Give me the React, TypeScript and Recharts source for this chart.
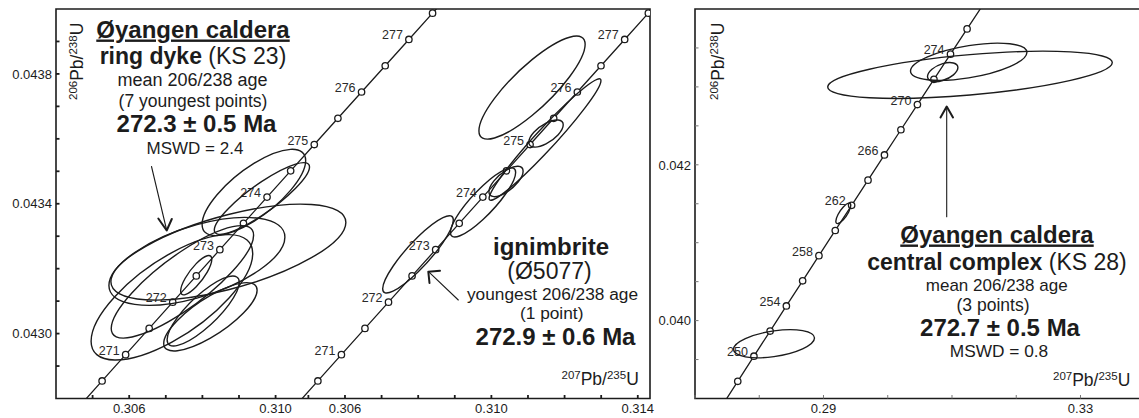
import { ComposedChart, Line, Scatter, XAxis, YAxis, ReferenceArea } from 'recharts';

const FONT = '"Liberation Sans", Arial, Helvetica, sans-serif';
const INK = '#1c1c1c';

// concordia marks every 0.5 Ma (KS 23 and Ø5077 frame)
const fineAges = [270, 270.5, 271, 271.5, 272, 272.5, 273, 273.5, 274, 274.5, 275, 275.5, 276, 276.5, 277, 277.5, 278];
const fineR207 = [0.30461697, 0.30525956, 0.30590246, 0.30654567, 0.3071892, 0.30783306, 0.30847722, 0.3091217, 0.3097665, 0.31041162, 0.31105705, 0.3117028, 0.31234886, 0.31299524, 0.31364193, 0.31428895, 0.31493629];
const fineR206 = [0.04277325, 0.04285413, 0.04293502, 0.04301592, 0.04309682, 0.04317773, 0.04325864, 0.04333956, 0.04342049, 0.04350143, 0.04358238, 0.04366331, 0.04374426, 0.04382522, 0.04390619, 0.04398716, 0.04406813];
const fineLabels = [271, 272, 273, 274, 275, 276, 277];

// concordia marks every 2 Ma (KS 28 frame)
const coarseAges = [246, 248, 250, 252, 254, 256, 258, 260, 262, 264, 266, 268, 270, 272, 274, 276, 278, 280];
const coarseR207 = [0.27414208, 0.27665424, 0.27917135, 0.28169341, 0.28422046, 0.28675248, 0.2892895, 0.29183151, 0.29437853, 0.2969306, 0.29948767, 0.3020498, 0.30461697, 0.3071892, 0.3097665, 0.31234886, 0.3149364, 0.31752897];
const coarseR206 = [0.03889824, 0.0392206, 0.03954307, 0.03986564, 0.0401883, 0.04051107, 0.04083394, 0.0411569, 0.04147997, 0.04180314, 0.04212641, 0.04244978, 0.04277325, 0.04309682, 0.04342049, 0.04374426, 0.04406813, 0.04439211];
const coarseLabels = [250, 254, 258, 262, 266, 270, 274];

// KS 23 ring dyke analyses (207/235, 206/238, half extents, rho)
const ks23X = [0.30871, 0.309407, 0.309626, 0.30785, 0.307454, 0.307167, 0.307831, 0.308219, 0.308022];
const ks23Y = [0.043251, 0.0434348, 0.0434163, 0.0432225, 0.0431594, 0.0431117, 0.04318, 0.0430517, 0.0430695];
const ks23SX = [0.00321, 0.001415, 0.001301, 0.002404, 0.001945, 0.002208, 0.000426, 0.001276, 0.000986];
const ks23SY = [0.0001477, 0.0001329, 0.0001105, 0.0001354, 0.0001732, 0.0001932, 0.0000606, 0.0001052, 0.0001077];
const ks23Rho = [0.62, 0.74, 0.88, 0.55, 0.83, 0.7, 0.81, 0.78, 0.82];

// Ø5077 ignimbrite analyses
const ignX = [0.311111, 0.311466, 0.311493, 0.3104, 0.309772, 0.307995];
const ignY = [0.0437578, 0.0435978, 0.0436163, 0.0434686, 0.043404, 0.043244];
const ignSX = [0.001451, 0.001528, 0.00047, 0.000467, 0.000891, 0.000965];
const ignSY = [0.0001588, 0.0001871, 0.0000418, 0.0000468, 0.0001065, 0.0001191];
const ignRho = [0.84, 0.97, 0.64, 0.68, 0.87, 0.89];

// KS 28 central complex analyses
const ks28X = [0.312802, 0.312599, 0.308553, 0.293082, 0.282296];
const ks28Y = [0.043155, 0.043323, 0.04319, 0.041377, 0.039703];
const ks28SX = [0.022148, 0.009058, 0.002366, 0.001164, 0.006304];
const ks28SY = [0.000303, 0.0002387, 0.0001226, 0.0001316, 0.0001806];
const ks28Rho = [0.52, 0.5, 0.47, 0.78, 0.4];

// axis ticks
const leftXTicks = [0.305, 0.306, 0.307, 0.308, 0.309, 0.31];
const midXTicks = [0.305, 0.306, 0.307, 0.308, 0.309, 0.31, 0.311, 0.312, 0.313, 0.314];
const leftXLabels = [0.306, 0.31];
const midXLabels = [0.306, 0.31, 0.314];
const leftYTicks = [0.0429, 0.043, 0.0431, 0.0432, 0.0433, 0.0434, 0.0435, 0.0436, 0.0437, 0.0438, 0.0439];
const leftYLabels = [0.043, 0.0434, 0.0438];
const rightXTicks = [0.27, 0.28, 0.29, 0.3, 0.31, 0.32, 0.33];
const rightXLabels = [0.29, 0.33];
const rightYTicks = [0.0395, 0.04, 0.0405, 0.041, 0.0415, 0.042, 0.0425, 0.043, 0.0435];
const rightYLabels = [0.04, 0.042];

type Curve = { ages: number[]; r207: number[]; r206: number[]; labels: number[] };
type Spots = { x: number[]; y: number[]; sx: number[]; sy: number[]; rho: number[] };

const has = (list: number[], v: number) => list.some((t) => Math.abs(t - v) < 1e-9);

// centre + two conjugate half axes, so the scales turn them into pixels
function ellipseRows(s: Spots) {
  return s.x.map((x, i) => [
    { x, y: s.y[i] },
    { x: x + s.sx[i], y: s.y[i] + s.rho[i] * s.sy[i] },
    { x, y: s.y[i] + s.sy[i] * Math.sqrt(1 - s.rho[i] * s.rho[i]) },
  ]);
}

const EllipseDot = (p: any) => {
  if (p.index !== 0 || !p.points || p.points.length < 3) return null;
  const [c, u, v] = p.points;
  const m = [u.x - c.x, u.y - c.y, v.x - c.x, v.y - c.y, c.x, c.y].join(' ');
  return (
    <circle key={`el-${c.x}-${c.y}`} cx={0} cy={0} r={1} transform={`matrix(${m})`} fill="none"
      stroke={INK} strokeWidth={1.4} vectorEffect="non-scaling-stroke" />
  );
};

const AgeMark = (p: any) => (
  <g>
    <circle cx={p.cx} cy={p.cy} r={3.2} fill="#fff" stroke={INK} strokeWidth={1.3} />
    {p.payload.label ? (
      <text x={p.cx - 6} y={p.cy} textAnchor="end" fontSize={12.5} fontFamily={FONT} fill="#2a2a2a">
        {p.payload.label}
      </text>
    ) : null}
  </g>
);

function ConcordiaPanel(props: {
  left: number; width: number; yAxisWidth: number;
  xDomain: [number, number]; yDomain: [number, number];
  xTicks: number[]; xLabels: number[]; xDecimals: number;
  yTicks: number[]; yLabels: number[]; yDecimals: number;
  curve: Curve; spots: Spots; frame: boolean; tickColor: string; tickWidth: number;
}) {
  const { left, width, yAxisWidth, xDomain, yDomain, curve, tickColor, tickWidth } = props;
  const line = curve.ages.map((a, i) => ({ age: a, x: curve.r207[i], y: curve.r206[i] }));
  const marks = line
    .filter((p) => p.x > xDomain[0] && p.x < xDomain[1] && p.y > yDomain[0] && p.y < yDomain[1])
    .map((p) => ({ ...p, label: curve.labels.includes(p.age) ? String(p.age) : '' }));
  const ellipses = ellipseRows(props.spots);

  const xTick = (p: any) => (
    <g>
      <line x1={p.x} x2={p.x} y1={p.y} y2={p.y - 3.5} stroke={tickColor} strokeWidth={tickWidth} />
      {has(props.xLabels, p.payload.value) ? (
        <text x={p.x} y={p.y + 14} textAnchor="middle" fontSize={13} fontFamily={FONT} fill={INK}>
          {p.payload.value.toFixed(props.xDecimals)}
        </text>
      ) : null}
    </g>
  );
  const yTick = (p: any) => (
    <g>
      <line x1={p.x} x2={p.x + 3.5} y1={p.y} y2={p.y} stroke={tickColor} strokeWidth={tickWidth} />
      {has(props.yLabels, p.payload.value) ? (
        <text x={p.x - 4} y={p.y + 4.7} textAnchor="end" fontSize={13} fontFamily={FONT} fill={INK}>
          {p.payload.value.toFixed(props.yDecimals)}
        </text>
      ) : null}
    </g>
  );

  return (
    <div style={{ position: 'absolute', left, top: 0 }}>
      <ComposedChart width={width} height={418}
        margin={{ top: 9, right: 10, bottom: 0, left: yAxisWidth ? 0 : 56 }}>
        <XAxis type="number" dataKey="x" domain={xDomain} allowDataOverflow ticks={props.xTicks} interval={0}
          height={19.5} tickSize={0} tickMargin={0} axisLine={false} tickLine={false} tick={xTick} />
        <YAxis type="number" dataKey="y" domain={yDomain} allowDataOverflow ticks={props.yTicks} interval={0}
          width={yAxisWidth || 0} hide={!yAxisWidth} tickSize={0} tickMargin={0} axisLine={false}
          tickLine={false} tick={yTick} />
        {props.frame ? (
          <ReferenceArea x1={xDomain[0]} x2={xDomain[1]} y1={yDomain[0]} y2={yDomain[1]}
            fill="none" stroke={INK} strokeWidth={1.6} ifOverflow="visible" />
        ) : null}
        <Line data={line} dataKey="y" type="linear" stroke={INK} strokeWidth={1.3} dot={false}
          activeDot={false} isAnimationActive={false} />
        <Scatter data={marks} dataKey="y" shape={(p: any) => <AgeMark {...p} />} isAnimationActive={false} />
        {ellipses.map((pts, i) => (
          <Line key={i} data={pts} dataKey="y" stroke="none" dot={EllipseDot} activeDot={false}
            isAnimationActive={false} />
        ))}
      </ComposedChart>
    </div>
  );
}

const AxisTitle = ({ top, bottom }: { top: string; bottom: string }) => (
  <>
    <tspan fontSize={11.5} dy={-6.5}>{top}</tspan>
    <tspan dy={6.5}>Pb/</tspan>
    <tspan fontSize={11.5} dy={-6.5}>{bottom}</tspan>
    <tspan dy={6.5}>U</tspan>
  </>
);

const T = (p: { x: number; y: number; size: number; bold?: boolean; underline?: boolean; children: any }) => (
  <text x={p.x} y={p.y} fontSize={p.size} fontWeight={p.bold ? 'bold' : 'normal'} textAnchor="middle"
    fontFamily={FONT} fill={INK} textDecoration={p.underline ? 'underline' : undefined}>
    {p.children}
  </text>
);

export default function App() {
  const fine: Curve = { ages: fineAges, r207: fineR207, r206: fineR206, labels: fineLabels };
  const coarse: Curve = { ages: coarseAges, r207: coarseR207, r206: coarseR206, labels: coarseLabels };
  return (
    <div style={{ position: 'fixed', left: 0, top: 0, width: 1139, height: 418, overflow: 'hidden', background: '#fff' }}>
      <ConcordiaPanel left={0} width={660} yAxisWidth={56} xDomain={[0.304, 0.32023]} yDomain={[0.0428, 0.044]}
        xTicks={leftXTicks} xLabels={leftXLabels} xDecimals={3} yTicks={leftYTicks} yLabels={leftYLabels}
        yDecimals={4} curve={fine} spots={{ x: ks23X, y: ks23Y, sx: ks23SX, sy: ks23SY, rho: ks23Rho }}
        frame tickColor={INK} tickWidth={1.8} />
      <ConcordiaPanel left={0} width={660} yAxisWidth={0} xDomain={[0.298104, 0.314334]} yDomain={[0.0428, 0.044]}
        xTicks={midXTicks} xLabels={midXLabels} xDecimals={3} yTicks={[]} yLabels={[]} yDecimals={4}
        curve={fine} spots={{ x: ignX, y: ignY, sx: ignSX, sy: ignSY, rho: ignRho }}
        frame={false} tickColor={INK} tickWidth={1.8} />
      <ConcordiaPanel left={640} width={530} yAxisWidth={55} xDomain={[0.27, 0.342374]} yDomain={[0.039, 0.044]}
        xTicks={rightXTicks} xLabels={rightXLabels} xDecimals={2} yTicks={rightYTicks} yLabels={rightYLabels}
        yDecimals={3} curve={coarse} spots={{ x: ks28X, y: ks28Y, sx: ks28SX, sy: ks28SY, rho: ks28Rho }}
        frame tickColor="#777" tickWidth={1} />

      <svg width={1139} height={418} style={{ position: 'absolute', left: 0, top: 0, pointerEvents: 'none' }}>
        <text transform="translate(83,100) rotate(-90)" fontSize={17.5} fontFamily={FONT} fill={INK}>
          <AxisTitle top="206" bottom="238" />
        </text>
        <text transform="translate(724,100) rotate(-90)" fontSize={17.5} fontFamily={FONT} fill={INK}>
          <AxisTitle top="206" bottom="238" />
        </text>
        <text x={561.5} y={385} fontSize={17.5} fontFamily={FONT} fill={INK}>
          <AxisTitle top="207" bottom="235" />
        </text>
        <text x={1053} y={386} fontSize={17.5} fontFamily={FONT} fill={INK}>
          <AxisTitle top="207" bottom="235" />
        </text>

        <T x={193} y={37.5} size={24} bold underline>Øyangen caldera</T>
        <T x={193} y={63.5} size={23}><tspan fontWeight="bold">ring dyke </tspan>(KS 23)</T>
        <T x={192.5} y={86} size={18}>mean 206/238 age</T>
        <T x={193} y={106.5} size={17.5}>(7 youngest points)</T>
        <T x={196.5} y={131.5} size={24} bold>272.3 ± 0.5 Ma</T>
        <T x={195} y={153.5} size={17}>MSWD = 2.4</T>

        <T x={551} y={255} size={24} bold>ignimbrite</T>
        <T x={549.5} y={278.5} size={23}>(Ø5077)</T>
        <T x={552.5} y={300} size={17.3}>youngest 206/238 age</T>
        <T x={551.7} y={318.5} size={17.3}>(1 point)</T>
        <T x={555.5} y={345} size={24} bold>272.9 ± 0.6 Ma</T>

        <T x={997} y={242.5} size={24} bold underline>Øyangen caldera</T>
        <T x={997} y={269.5} size={23}><tspan fontWeight="bold">central complex </tspan>(KS 28)</T>
        <T x={996.7} y={290.5} size={17}>mean 206/238 age</T>
        <T x={993} y={311} size={17.5}>(3 points)</T>
        <T x={1000} y={336} size={24} bold>272.7 ± 0.5 Ma</T>
        <T x={999} y={357} size={17.3}>MSWD = 0.8</T>

        <g stroke={INK} fill="none" strokeLinecap="round" strokeLinejoin="round">
          <line x1={151.5} y1={166.5} x2={166.5} y2={229.5} strokeWidth={1.1} />
          <polyline points="158.3,218.5 166.7,230.5 171.8,219" strokeWidth={2} />
          <line x1={458.3} y1={300} x2={429} y2={272.2} strokeWidth={1.1} />
          <polyline points="429.5,283 428.3,271.7 440,270.8" strokeWidth={2} />
          <line x1={946.7} y1={216.7} x2={946.7} y2={107.5} strokeWidth={1.1} />
          <polyline points="940.5,117.5 946.7,106.5 953,117.5" strokeWidth={2} />
        </g>
      </svg>
    </div>
  );
}
